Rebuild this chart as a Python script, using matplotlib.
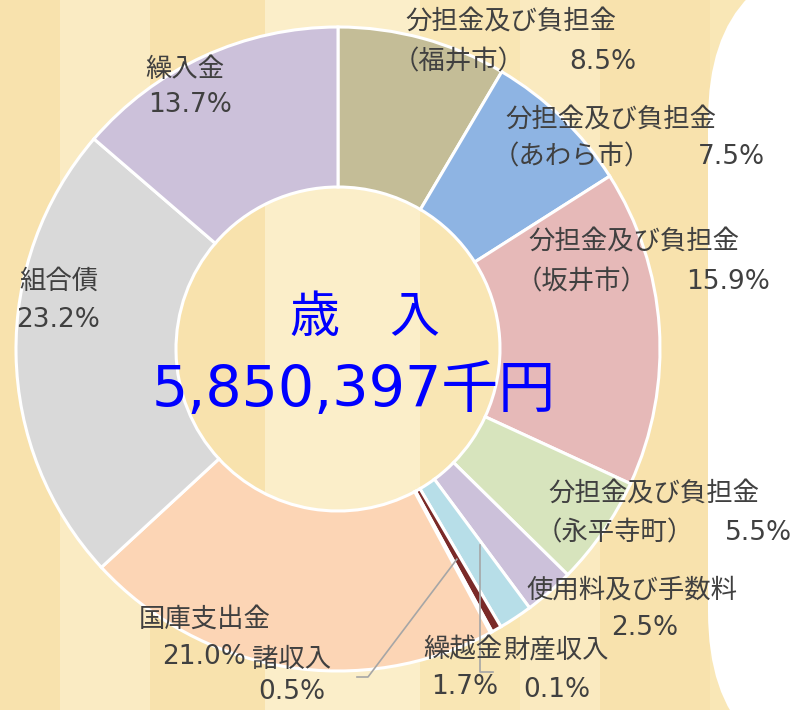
import matplotlib.pyplot as plt
import numpy as np
from matplotlib.patches import Rectangle, FancyBboxPatch

plt.rcParams['font.family'] = ['DejaVu Sans', 'Noto Sans CJK JP']

# データ
categories = ['分担金及び負担金（福井市）', '分担金及び負担金（あわら市）',
              '分担金及び負担金（坂井市）', '分担金及び負担金（永平寺町）',
              '使用料及び手数料', '繰越金', '諸収入', '財産収入',
              '国庫支出金', '組合債', '繰入金']
values = [8.5, 7.5, 15.9, 5.5, 2.5, 1.7, 0.5, 0.1, 21.0, 23.2, 13.7]
colors = ['#c4bd97', '#8eb4e3', '#e6b9b8', '#d7e4bd', '#ccc1da', '#b7dee8',
          '#7a2a28', '#953735', '#fcd5b5', '#d9d9d9', '#ccc1da']
total_label = '5,850,397千円'

W, H = 793, 710
fig = plt.figure(figsize=(W / 100, H / 100), dpi=100)
fig.patch.set_facecolor('#f9e7b6')
ax = fig.add_axes([0, 0, 1, 1])

# 背景（紙のような模様の代わりに縦帯）
bands = [(0, 60, '#f8e2ad'), (60, 150, '#faebc3'), (150, 265, '#f8e2ad'),
         (265, 420, '#fbeec9'), (420, 520, '#f9e6b4'), (520, 600, '#faeac0'),
         (600, 710, '#f8e2ad')]
for x0, x1, c in bands:
    ax.add_patch(Rectangle((x0, 0), x1 - x0, H, color=c, zorder=0, lw=0))
ax.add_patch(FancyBboxPatch((708, -67), 700, 822,
                            boxstyle='round,pad=0,rounding_size=165',
                            fc='white', ec='none', zorder=1))

# ドーナツ
cx, cy, R = 338, H - 349, 322
wedges, _ = ax.pie(values, colors=colors, startangle=90, counterclock=False,
                   radius=R, center=(cx, cy),
                   wedgeprops=dict(width=160, edgecolor='white', linewidth=2.2))
for w in wedges:
    w.set_zorder(2)

ax.set_xlim(0, W)
ax.set_ylim(0, H)
ax.set_aspect('equal')
ax.axis('off')

tc = '#404040'
fs = 19


def t(x, y, s, ha='left', **kw):
    ax.text(x, H - y, s, ha=ha, va='center', color=tc, fontsize=fs, zorder=5, **kw)


pct = [f'{v:.1f}%' for v in values]

# 分担金及び負担金
sub = ['（福井市）', '（あわら市）', '（坂井市）', '（永平寺町）']
pos = [(405, 22, 62, 636), (505, 120, 157, 765), (528, 243, 282, 770),
       (548, 495, 533, 792)]
for i, (x0, y1, y2, xr) in enumerate(pos):
    t(x0, y1, '分担金及び負担金')
    t(x0 - 12, y2, sub[i])
    t(xr, y2, pct[i], ha='right')

t(632, 590, categories[4], ha='center')
t(645, 628, pct[4], ha='center')
t(463, 650, categories[5], ha='center')
t(465, 687, pct[5], ha='center')
t(292, 660, categories[6], ha='center')
t(292, 692, pct[6], ha='center')
t(556, 650, categories[7], ha='center')
t(557, 690, pct[7], ha='center')
t(205, 620, categories[8], ha='center')
t(204, 657, pct[8], ha='center')
t(59, 282, categories[9], ha='center')
t(58, 320, pct[9], ha='center')
t(185, 70, categories[10], ha='center')
t(190, 105, pct[10], ha='center')

# 引き出し線
cum = np.cumsum([0] + values) / sum(values)
mid = 90 - 360 * (cum[6] + cum[7]) / 2
ex, ey = cx + 0.75 * R * np.cos(np.radians(mid)), cy + 0.75 * R * np.sin(np.radians(mid))
ax.plot([357, 368, ex], [H - 677, H - 677, ey], color='#a6a6a6', lw=1.2, zorder=4)
ax.plot([493, 480, 480], [H - 672, H - 672, H - 545], color='#a6a6a6', lw=1.2, zorder=4)

# 中央
ax.text(cx + 27, H - 318, '歳　入', ha='center', va='center', color='#0000ff',
        fontsize=36, zorder=5)
ax.text(354, H - 392, total_label, ha='center', va='center', color='#0000ff',
        fontsize=41, zorder=5)

fig.savefig('out.png', dpi=100)
